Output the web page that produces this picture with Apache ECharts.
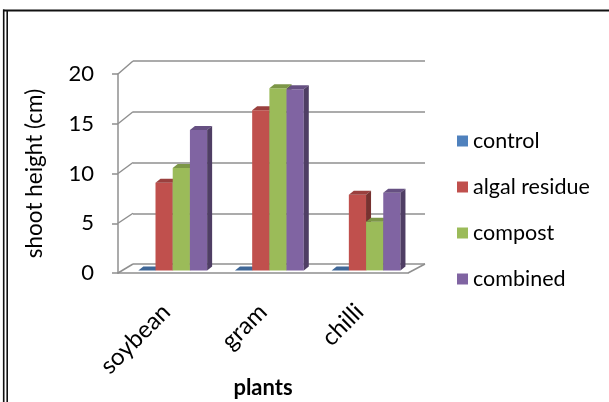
<!DOCTYPE html>
<html>
<head>
<meta charset="utf-8">
<script src="https://cdn.jsdelivr.net/npm/echarts@6/dist/echarts.min.js"></script>
<style>
  html, body { margin: 0; padding: 0; background: #fff; }
  #main { width: 609px; height: 402px; }
</style>
</head>
<body>
<div id="main"></div>
<script>
// data
const categories = ['soybean', 'gram', 'chilli'];
const seriesNames = ['control', 'algal residue', 'compost', 'combined'];
const control = [0, 0, 0];
const algalResidue = [8.8, 16.1, 7.6];
const compost = [10.3, 18.3, 4.9];
const combined = [14.1, 18.2, 7.8];
const yTicks = [0, 5, 10, 15, 20];

const values = [control, algalResidue, compost, combined];
const colors = ['#4F81BD', '#C0504D', '#9BBB59', '#8064A2'];
const gridColor = '#8f8f8f';

function shade(hex, k) {
    const n = parseInt(hex.slice(1), 16);
    const r = Math.round(((n >> 16) & 255) * k);
    const g = Math.round(((n >> 8) & 255) * k);
    const b = Math.round((n & 255) * k);
    return 'rgb(' + r + ',' + g + ',' + b + ')';
}

// 3d-ish column: front face + top + right side
function barRenderer(s) {
    return function (params, api) {
        const ci = api.value(0), v = api.value(1);
        const band = api.size([1, 0])[0];
        const base = api.coord([ci, 0]);
        const top = api.coord([ci, v]);
        const w = band * 0.178;
        const x = base[0] - band / 2 + band * 0.21 + s * w;
        const yb = base[1] - 2.6, yt = top[1] - 2.6;
        const dx = 5, dy = -4;
        const c = colors[s];
        return {
            type: 'group',
            children: [
                { type: 'rect', shape: { x: x, y: yt, width: w, height: yb - yt }, style: { fill: c } },
                { type: 'polygon', shape: { points: [[x, yt], [x + w, yt], [x + w + dx, yt + dy], [x + dx, yt + dy]] }, style: { fill: shade(c, 0.8) } },
                { type: 'polygon', shape: { points: [[x + w, yt], [x + w + dx, yt + dy], [x + w + dx, yb + dy], [x + w, yb]] }, style: { fill: shade(c, 0.62) } }
            ]
        };
    };
}

const chart = echarts.init(document.getElementById('main'));
chart.setOption({
    animation: false,
    backgroundColor: '#fff',
    textStyle: { fontFamily: 'Lato', color: '#000' },
    grid: [
        { left: 118, right: 201, top: 74, bottom: 129, outerBoundsMode: 'none', containLabel: false },   // front plane
        { left: 133, right: 184, top: 61, bottom: 138, outerBoundsMode: 'none', containLabel: false }    // back wall
    ],
    legend: {
        orient: 'vertical',
        left: 452,
        top: 125,
        itemWidth: 11,
        itemHeight: 11,
        itemGap: 24,
        icon: 'rect',
        textStyle: { fontSize: 21.5, color: '#000', fontFamily: 'Lato', lineHeight: 20 },
        data: seriesNames
    },
    xAxis: [
        {
            type: 'category', gridIndex: 0, data: categories,
            axisLine: { lineStyle: { color: gridColor, width: 1.5 } },
            axisTick: { length: 9, lineStyle: { color: gridColor, width: 1.5 } },
            axisLabel: { rotate: 45, fontSize: 24, color: '#000', margin: 35 },
            name: 'plants', nameLocation: 'middle', nameGap: 104, nameMoveOverlap: false,
            nameTextStyle: { fontSize: 22, fontWeight: 'bold', color: '#000' }
        },
        { type: 'category', gridIndex: 1, data: categories, show: false }
    ],
    yAxis: [
        {
            type: 'value', gridIndex: 0, min: 0, max: 20, interval: 5,
            axisLine: { show: true, lineStyle: { color: gridColor, width: 1.5 } },
            axisTick: { show: true, length: 6, lineStyle: { color: gridColor, width: 1.5 } },
            axisLabel: { fontSize: 22, color: '#000', margin: 24 },
            splitLine: { show: false },
            name: 'shoot height (cm)', nameLocation: 'middle', nameGap: 72, nameMoveOverlap: false,
            nameTextStyle: { fontSize: 22.5, color: '#000' }
        },
        {
            type: 'value', gridIndex: 1, min: 0, max: 20, interval: 5,
            axisLine: { show: false }, axisTick: { show: false }, axisLabel: { show: false },
            splitLine: { show: true, lineStyle: { color: gridColor, width: 1.5 } }
        }
    ],
    series: seriesNames.map(function (name, s) {
        return {
            type: 'custom',
            name: name,
            xAxisIndex: 0,
            yAxisIndex: 0,
            itemStyle: { color: colors[s] },
            encode: { x: 0, y: 1 },
            renderItem: barRenderer(s),
            data: values[s].map(function (v, i) { return [i, v]; })
        };
    })
});

// diagonal edges joining the front axis to the back wall, plus the frame
const fx = function (i) { return chart.convertToPixel({ xAxisIndex: 0 }, i); };
const bx = function (i) { return chart.convertToPixel({ xAxisIndex: 1 }, i); };
const fy = function (v) { return chart.convertToPixel({ yAxisIndex: 0 }, v); };
const by = function (v) { return chart.convertToPixel({ yAxisIndex: 1 }, v); };
const last = categories.length - 1;
const fBand = fx(1) - fx(0), bBand = bx(1) - bx(0);
const fLeft = fx(0) - fBand / 2, fRight = fx(last) + fBand / 2;
const bLeft = bx(0) - bBand / 2, bRight = bx(last) + bBand / 2;

const edgeStyle = { stroke: gridColor, lineWidth: 1.5 };
const graphics = yTicks.map(function (v) {
    return { type: 'line', z: -1, shape: { x1: fLeft, y1: fy(v), x2: bLeft, y2: by(v) }, style: edgeStyle };
});
graphics.push({ type: 'line', z: -1, shape: { x1: fRight, y1: fy(0), x2: bRight, y2: by(0) }, style: edgeStyle });

const frame = { stroke: '#111', lineWidth: 1.6 };
graphics.push({ type: 'line', shape: { x1: 3, y1: 10.5, x2: 609, y2: 10.5 }, style: { stroke: '#111', lineWidth: 2 } });
graphics.push({ type: 'line', shape: { x1: 3.7, y1: 9.5, x2: 3.7, y2: 402 }, style: frame });
graphics.push({ type: 'line', shape: { x1: 7.2, y1: 11, x2: 7.2, y2: 402 }, style: frame });

chart.setOption({ graphic: graphics });
</script>
</body>
</html>
